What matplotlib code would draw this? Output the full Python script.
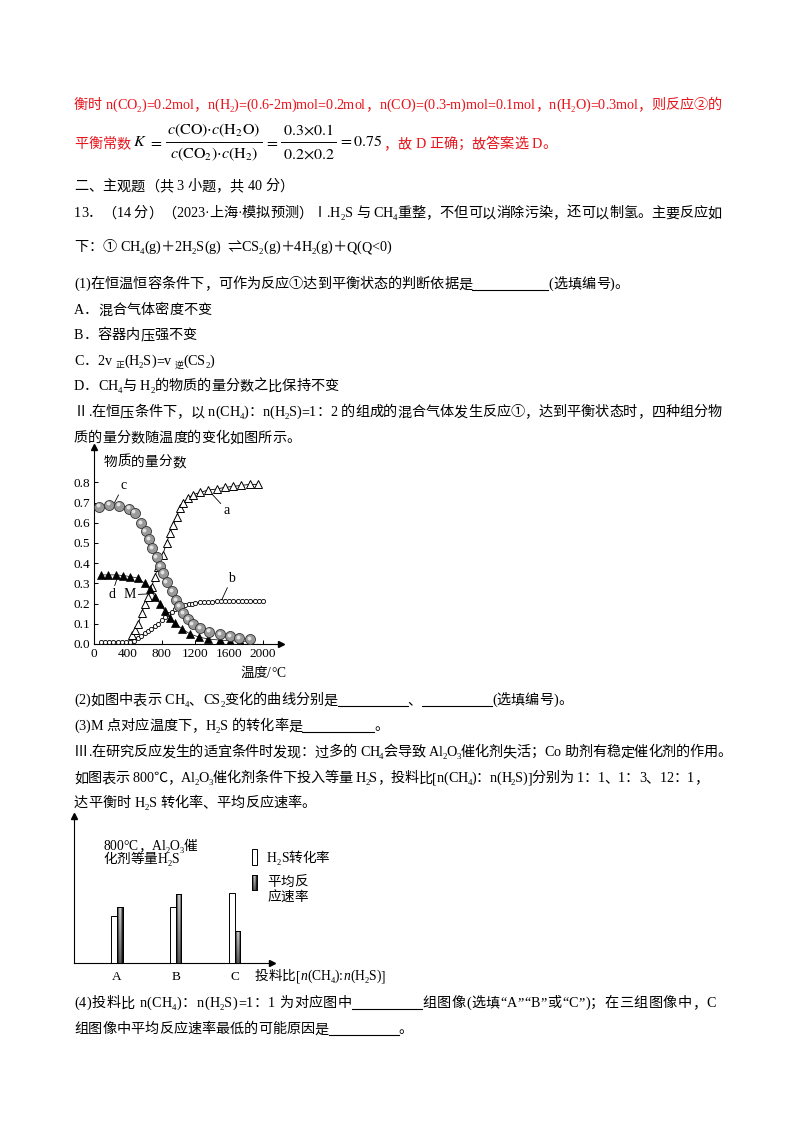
import re
import numpy as np
import matplotlib
matplotlib.use('Agg')
import matplotlib.pyplot as plt
from matplotlib import font_manager as fm
from matplotlib.ft2font import FT2Font
from matplotlib.lines import Line2D
from matplotlib.patches import Rectangle
import matplotlib.transforms as mtransforms
try:
    from matplotlib.ft2font import LoadFlags
    NOHINT = LoadFlags.NO_HINTING
except Exception:
    from matplotlib.ft2font import LOAD_NO_HINTING as NOHINT

# ---------------- data: chart 1 (mole fraction vs temperature) ----------------
TEMP_TICKS = [0, 400, 800, 1200, 1600, 2000]
FRAC_TICKS = [0.0, 0.1, 0.2, 0.3, 0.4, 0.5, 0.6, 0.7, 0.8]

A_X = [445, 485, 524, 563, 603, 642, 682, 721, 760, 812, 859, 898, 938, 977, 1017,
       1056, 1115, 1174, 1253, 1351, 1450, 1548, 1647, 1745, 1844, 1942]
A_Y = [0.045, 0.069, 0.10, 0.152, 0.20, 0.235, 0.284, 0.334, 0.383, 0.44, 0.50, 0.55,
       0.59, 0.63, 0.673, 0.70, 0.722, 0.739, 0.75, 0.762, 0.767, 0.775, 0.78, 0.785,
       0.79, 0.79]

B_X = [80, 130, 180, 230, 280, 330, 380, 430, 470, 520, 560, 600, 640, 680, 720, 760,
       800, 840, 880, 920, 960, 1000, 1040, 1080, 1120, 1160, 1200, 1250, 1300, 1350,
       1400, 1450, 1500, 1550, 1600, 1650, 1700, 1750, 1800, 1850, 1900, 1950, 2000]
B_Y = [0.012, 0.012, 0.012, 0.012, 0.012, 0.012, 0.012, 0.012, 0.015, 0.03, 0.042,
       0.053, 0.064, 0.075, 0.09, 0.10, 0.118, 0.134, 0.148, 0.16, 0.171, 0.18, 0.186,
       0.191, 0.196, 0.2, 0.203, 0.206, 0.209, 0.21, 0.21, 0.211, 0.211, 0.211, 0.211,
       0.211, 0.211, 0.211, 0.211, 0.211, 0.211, 0.211, 0.211]

C_X = [60, 180, 300, 420, 480, 560, 610, 650, 690, 740, 780, 820, 860, 920, 970, 1010,
       1057, 1116, 1167, 1254, 1364, 1490, 1609, 1719, 1846]
C_Y = [0.68, 0.69, 0.685, 0.67, 0.65, 0.60, 0.56, 0.52, 0.475, 0.43, 0.385, 0.35, 0.305,
       0.26, 0.218, 0.188, 0.152, 0.122, 0.099, 0.078, 0.061, 0.05, 0.04, 0.031, 0.023]

D_X = [80, 170, 260, 345, 425, 520, 600, 660, 720, 780, 840, 900, 960, 1040, 1135, 1245,
       1350, 1490, 1610, 1730, 1850]
D_Y = [0.342, 0.342, 0.342, 0.339, 0.334, 0.326, 0.30, 0.27, 0.235, 0.20, 0.163, 0.13,
       0.102, 0.076, 0.05, 0.034, 0.025, 0.019, 0.016, 0.014, 0.013]

# ---------------- data: chart 2 (bars) ----------------
BAR_GROUPS = ['A', 'B', 'C']
H2S_CONV = [31.8, 38.1, 47.9]
AVG_RATE = [38.1, 47.2, 21.8]

# ---------------- page text ----------------
RED = '#e8141c'
TEXT_LINES = [
    (104, RED, "衡时 n(CO_{2})=0.2mol，n(H_{2})=(0.6-2m)mol=0.2mol，n(CO)=(0.3-m)mol=0.1mol，n(H_{2}O)=0.3mol，则反应②的", 722),
    (185, 'black', "二、主观题（共 3 小题，共 40 分）", None),
    (212, 'black', "13．（14 分）（2023·上海·模拟预测）Ⅰ.H_{2}S 与 CH_{4}重整，不但可以消除污染，还可以制氢。主要反应如", 722),
    (246, 'black', "下：① CH_{4}(g)＋2H_{2}S(g)  ⇌CS_{2}(g)＋4H_{2}(g)＋Q(Q<0)", None),
    (283, 'black', "(1)在恒温恒容条件下，可作为反应①达到平衡状态的判断依据是[[76]](选填编号)。", None),
    (309, 'black', "A．混合气体密度不变", None),
    (334, 'black', "B．容器内压强不变", None),
    (360, 'black', "C．2v _{正}(H_{2}S)=v _{逆}(CS_{2})", None),
    (385, 'black', "D．CH_{4}与 H_{2}的物质的量分数之比保持不变", None),
    (411, 'black', "Ⅱ.在恒压条件下，以 n(CH_{4})：n(H_{2}S)=1：2 的组成的混合气体发生反应①，达到平衡状态时，四种组分物", 722),
    (437, 'black', "质的量分数随温度的变化如图所示。", None),
    (699, 'black', "(2)如图中表示 CH_{4}、CS_{2}变化的曲线分别是[[70]]、[[70]](选填编号)。", None),
    (725, 'black', "(3)M 点对应温度下，H_{2}S 的转化率是[[72]]。", None),
    (751, 'black', "Ⅲ.在研究反应发生的适宜条件时发现：过多的 CH_{4}会导致 Al_{2}O_{3}催化剂失活；Co 助剂有稳定催化剂的作用。", 732),
    (777, 'black', "如图表示 800℃，Al_{2}O_{3}催化剂条件下投入等量 H_{2}S，投料比[n(CH_{4})：n(H_{2}S)]分别为 1：1、1：3、12：1，", 708),
    (802, 'black', "达平衡时 H_{2}S 转化率、平均反应速率。", None),
    (1002, 'black', "(4)投料比 n(CH_{4})：n(H_{2}S)=1：1 为对应图中[[70]]组图像(选填“A”“B”或“C”)；在三组图像中，C", 716),
    (1028, 'black', "组图像中平均反应速率最低的可能原因是[[70]]。", None),
]

# formula pieces (mathtext)
F_K = r'$K$'
F_EQ = r'$=$'
F_NUM1 = r'$c(\mathrm{CO}){\cdot}c(\mathrm{H_2O})$'
F_DEN1 = r'$c(\mathrm{CO_2}){\cdot}c(\mathrm{H_2})$'
F_NUM2 = r'$0.3{\times}0.1$'
F_DEN2 = r'$0.2{\times}0.2$'
F_RES = r'$=0.75$'

W, H = 800, 1132
FS = 10.2
LEFT = 74

plt.rcParams['mathtext.fontset'] = 'stix'
fig = plt.figure(figsize=(W / 100, H / 100), dpi=100)
fig.patch.set_facecolor('white')
renderer = fig.canvas.get_renderer()

FAMS = ['Liberation Serif', 'Noto Sans CJK SC', 'DejaVu Sans']
FT = []
for fam in FAMS:
    p = fm.findfont(fm.FontProperties(family=fam))
    FT.append((fam, FT2Font(p)))


def pick(ch):
    for fam, ft in FT:
        if ft.get_char_index(ord(ch)):
            return fam, ft
    return FT[-1]


def advance(ch, size):
    fam, ft = pick(ch)
    if ch == ' ':
        fam, ft = FT[0]
    ft.set_size(size, 100)
    g = ft.load_char(ord(ch), flags=NOHINT)
    return fam, g.linearHoriAdvance / 65536.0


TOK = re.compile(r'_\{([^}]*)\}|~\{([^}]*)\}|\[\[(\d+)\]\]')


def rich(x, y, s, size=FS, color='black', end=None):
    em = size * 100 / 72.0
    items = []

    def add(txt, sz, dy, style):
        for ch in txt:
            fam, w = advance(ch, sz)
            items.append(('c', ch, fam, w, sz, dy, style))

    pos = 0
    for m in TOK.finditer(s):
        add(s[pos:m.start()], size, 0, 'normal')
        if m.group(1) is not None:
            add(m.group(1), size * 0.62, 0.22 * em, 'normal')
        elif m.group(2) is not None:
            add(m.group(2), size, 0, 'italic')
        else:
            items.append(('b', None, None, float(m.group(3)), size, 0, None))
        pos = m.end()
    add(s[pos:], size, 0, 'normal')
    total = sum(it[3] for it in items)
    gap = 0.0
    if end is not None and len(items) > 1:
        gap = (end - x - total) / (len(items) - 1)
    base = y + 0.37 * em
    cur = x
    for kind, ch, fam, w, sz, dy, style in items:
        if kind == 'b':
            fig.add_artist(Line2D([cur / W, (cur + w) / W], [1 - (base + 1.5) / H] * 2,
                                  color='black', lw=0.8, transform=fig.transFigure))
        elif ch != ' ':
            fig.text(cur / W, 1 - (base + dy) / H, ch, fontfamily=fam, fontsize=sz,
                     color=color, style=style, va='baseline', ha='left')
        cur += w + gap
    return cur


for yy, col, s, end in TEXT_LINES:
    rich(LEFT, yy, s, color=col, end=end)

# ---------------- formula line ----------------
FY = 142
MS = 11.5


def mt(x, y, s, ha='left'):
    t = fig.text(x / W, 1 - y / H, s, fontsize=MS, va='center', ha=ha)
    return t.get_window_extent(renderer)


def frac(x, num, den):
    tn = fig.text(0, 1 - (FY - 12) / H, num, fontsize=MS, va='center', ha='center')
    td = fig.text(0, 1 - (FY + 12) / H, den, fontsize=MS, va='center', ha='center')
    wn = tn.get_window_extent(renderer).width
    wd = td.get_window_extent(renderer).width
    wmax = max(wn, wd) + 3
    xc = x + wmax / 2
    tn.set_x(xc / W)
    td.set_x(xc / W)
    fig.add_artist(Line2D([x / W, (x + wmax) / W], [1 - FY / H] * 2, color='black', lw=0.7,
                          transform=fig.transFigure))
    return x + wmax


xe = rich(LEFT, 143, "平衡常数", color=RED)
cx = mt(xe + 2, FY, F_K).x1 + 2
cx = mt(cx, FY, F_EQ).x1 + 3
cx = frac(cx, F_NUM1, F_DEN1) + 2
cx = mt(cx, FY, F_EQ).x1 + 3
cx = frac(cx, F_NUM2, F_DEN2) + 2
cx = mt(cx, FY, F_RES).x1 + 1
rich(cx, 143, "，故 D 正确；故答案选 D。", color=RED)

# ---------------- chart 1 ----------------
ax1 = fig.add_axes([94 / W, 1 - 644 / H, (281 - 94) / W, (644 - 447) / H])
ax1.set_xlim(0, 2213)
ax1.set_ylim(0, 0.975)
for sp in ['top', 'right']:
    ax1.spines[sp].set_visible(False)
for sp in ['left', 'bottom']:
    ax1.spines[sp].set_linewidth(0.8)
ax1.plot([0], [1], marker='^', color='black', ms=4, transform=ax1.transAxes, clip_on=False)
ax1.plot([1], [0], marker='>', color='black', ms=4, transform=ax1.transAxes, clip_on=False)
ax1.set_xticks(TEMP_TICKS)
ax1.set_xticklabels([str(t) for t in TEMP_TICKS], fontfamily='Liberation Serif', fontsize=9.5)
ax1.set_yticks(FRAC_TICKS)
ax1.set_yticklabels(['%.1f' % t for t in FRAC_TICKS], fontfamily='Liberation Serif', fontsize=9.5)
ax1.tick_params(direction='in', length=3, width=0.7, pad=3)

ax1.plot(A_X, A_Y, '-', color='black', lw=0.6, zorder=2)
ax1.plot(B_X, B_Y, '-', color='black', lw=0.5, zorder=2)
ax1.plot(D_X, D_Y, '-', color='black', lw=0.5, zorder=2)
ax1.plot(B_X, B_Y, 'o', mfc='white', mec='black', mew=0.6, ms=3.0, zorder=3)
ax1.plot(A_X, A_Y, '^', mfc='white', mec='black', mew=0.7, ms=6, zorder=4)
ax1.plot(D_X, D_Y, '^', mfc='black', mec='black', mew=0.5, ms=5.3, zorder=4)
ax1.plot(C_X, C_Y, 'o', mfc='#999999', mec='#333333', mew=0.6, ms=7.2, zorder=5)
hl = mtransforms.offset_copy(ax1.transData, fig=fig, x=-1.2, y=1.2, units='dots')
ax1.plot(C_X, C_Y, 'o', mfc='#e2e2e2', mec='none', ms=2.8, transform=hl, zorder=6)

lab = dict(fontfamily='Liberation Serif', fontsize=10, ha='center', va='center')
arr = dict(arrowstyle='-', color='black', lw=0.6, shrinkA=0, shrinkB=0)
ax1.annotate('c', xy=(240, 0.697), xytext=(347, 0.784), arrowprops=arr, **lab)
ax1.annotate('a', xy=(1381, 0.749), xytext=(1570, 0.663), arrowprops=arr, **lab)
ax1.annotate('b', xy=(1511, 0.218), xytext=(1630, 0.325), arrowprops=arr, **lab)
ax1.annotate('d', xy=(280, 0.333), xytext=(209, 0.243), arrowprops=arr, **lab)
ax1.annotate('M', xy=(643, 0.248), xytext=(418, 0.243), arrowprops=arr, **lab)

rich(104, 461, "物质的量分数", size=9.8)
rich(240, 672, "温度/°C", size=9.8)

# ---------------- chart 2 ----------------
ax2 = fig.add_axes([74 / W, 1 - 963 / H, (272 - 74) / W, (963 - 816) / H])
pos = np.arange(1, len(BAR_GROUPS) + 1)
bw = 0.094
b1 = ax2.bar(pos - bw / 2, H2S_CONV, width=bw, color='white', edgecolor='black', lw=0.7, zorder=3)
b2 = ax2.bar(pos + bw / 2, AVG_RATE, width=bw, color='#777777', edgecolor='black', lw=0.7, zorder=3)
G_H = np.array([0.05, 0.25, 0.5, 0.72, 0.85, 0.8, 0.6, 0.3, 0.08])
G_V = np.linspace(1.0, 0.45, 30)[:, None]
grad = G_V * G_H[None, :]
for r in b2:
    im = ax2.imshow(grad, cmap='gray', vmin=0, vmax=1, aspect='auto', zorder=3.5,
                    extent=(r.get_x(), r.get_x() + r.get_width(), 0, r.get_height()))
    im.set_clip_path(r)
    ax2.add_patch(Rectangle((r.get_x(), 0), r.get_width(), r.get_height(), fill=False,
                            ec='black', lw=0.7, zorder=4))
ax2.set_xlim(0.268, 3.638)
ax2.set_ylim(0, 100)
for sp in ['top', 'right']:
    ax2.spines[sp].set_visible(False)
for sp in ['left', 'bottom']:
    ax2.spines[sp].set_linewidth(0.8)
ax2.plot([0], [1], marker='^', color='black', ms=4, transform=ax2.transAxes, clip_on=False)
ax2.plot([1], [0], marker='>', color='black', ms=4, transform=ax2.transAxes, clip_on=False)
ax2.set_yticks([])
ax2.set_xticks(pos)
ax2.set_xticklabels(BAR_GROUPS, fontfamily='Liberation Serif', fontsize=9.5)
ax2.tick_params(axis='x', length=0, pad=6)

rich(255, 975, "投料比[~{n}(CH_{4}):~{n}(H_{2}S)]", size=9.8)
rich(103, 845, "800°C，Al_{2}O_{3}催", size=9.8)
rich(103, 858, "化剂等量H_{2}S", size=9.8)
fig.add_artist(Rectangle((252 / W, 1 - 865 / H), 5 / W, 16 / H, transform=fig.transFigure,
                         fc='white', ec='black', lw=0.7))
lax = fig.add_axes([252 / W, 1 - 890 / H, 5 / W, 15 / H])
lax.imshow(grad, cmap='gray', vmin=0, vmax=1, aspect='auto')
lax.set_xticks([])
lax.set_yticks([])
for sp in lax.spines.values():
    sp.set_linewidth(0.7)
rich(267, 857, "H_{2}S转化率", size=9.8)
rich(267, 881, "平均反", size=9.8)
rich(267, 896, "应速率", size=9.8)

fig.savefig('out.png', dpi=100, facecolor='white')
